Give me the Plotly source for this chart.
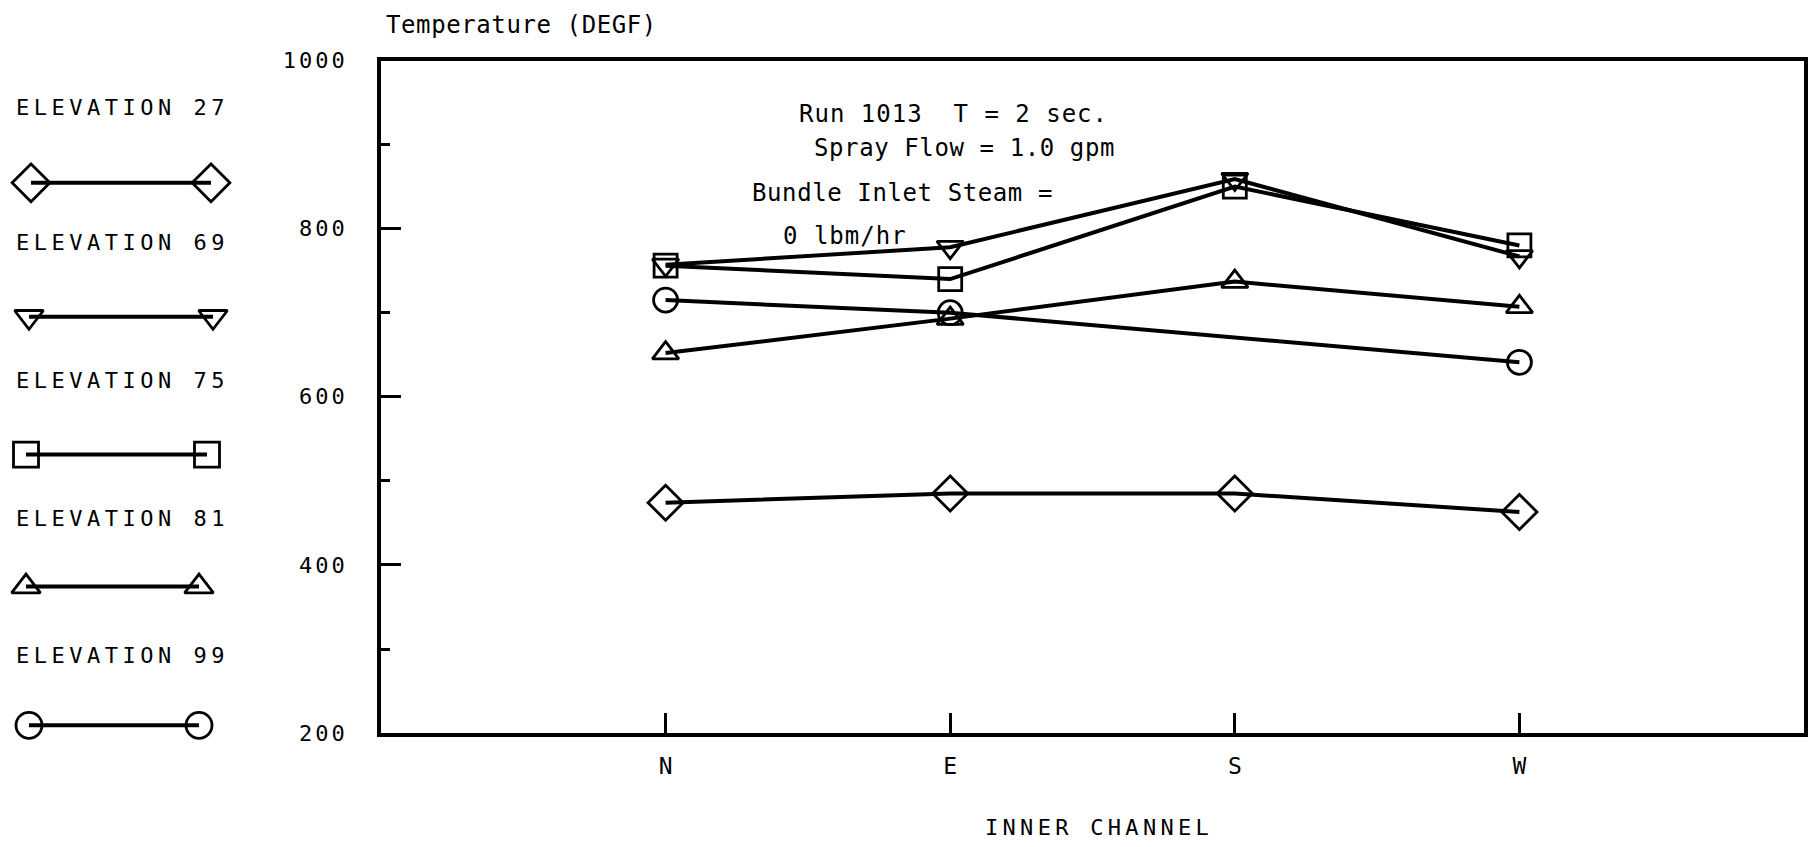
import plotly.graph_objects as go

# ---------------- data ----------------
categories = ["N", "E", "S", "W"]
cat_pos = [1, 2, 3, 4]
elev27 = [474, 485, 485, 463]
elev69 = [757, 778, 859, 767]
elev75 = [756, 740, 850, 780]
elev81 = [652, 693, 737, 707]
elev99 = [715, 700, None, 641]

series_names = ["ELEVATION 27", "ELEVATION 69", "ELEVATION 75", "ELEVATION 81", "ELEVATION 99"]
series_values = [elev27, elev69, elev75, elev81, elev99]
symbols = ["diamond-open", "triangle-down-open", "square-open", "triangle-up-open", "circle-open"]
sizes = [27, 23, 23, 23, 24]

y_ticks = [200, 400, 600, 800, 1000]

W, H = 1811, 847
FONT = "DejaVu Sans Mono"


def spaced(t, px):
    return '<span style="letter-spacing:%.1fpx">%s</span>' % (px, t)


fig = go.Figure()

for name, vals, sym, sz in zip(series_names, series_values, symbols, sizes):
    fig.add_trace(go.Scatter(
        x=cat_pos, y=vals, mode="lines+markers", name=name,
        connectgaps=True,
        line=dict(color="black", width=4),
        marker=dict(symbol=sym, size=sz, color="black", line=dict(width=2.8, color="black")),
        showlegend=False, xaxis="x", yaxis="y",
    ))

# custom legend in a hidden pixel-scaled subplot at left
legend_text_y = [98, 238, 380, 522, 663]
legend_line_y = [176, 314, 456, 592, 735]
legend_x0 = [31, 29, 26, 26, 29]
legend_x1 = [211, 213, 207, 199, 199]
for i, (name, sym, sz) in enumerate(zip(series_names, symbols, sizes)):
    fig.add_trace(go.Scatter(
        x=[legend_x0[i], legend_x1[i]], y=[legend_line_y[i]] * 2,
        mode="lines+markers", showlegend=False,
        line=dict(color="black", width=4),
        marker=dict(symbol=sym, size=sz + 2, color="black", line=dict(width=2.8, color="black")),
        xaxis="x2", yaxis="y2", hoverinfo="skip",
    ))
    fig.add_annotation(x=14, y=legend_text_y[i], xref="x2", yref="y2", text=spaced(name, 4.5),
                       showarrow=False, xanchor="left", yanchor="middle",
                       font=dict(family=FONT, size=22, color="black"))

notes = [
    (1.462, 936, "Run 1013  T = 2 sec.", 1.0),
    (1.514, 896, "Spray Flow = 1.0 gpm", 0.6),
    (1.296, 843, "Bundle Inlet Steam =", 0.6),
    (1.405, 791, "0 lbm/hr", 1.0),
]
for x, y, t, sp in notes:
    fig.add_annotation(x=x, y=y, xref="x", yref="y", text=spaced(t, sp), showarrow=False,
                       xanchor="left", yanchor="middle",
                       font=dict(family=FONT, size=24, color="black"))

fig.add_annotation(x=384 / W, y=1 - 13 / H, xref="paper", yref="paper",
                   text=spaced("Temperature (DEGF)", 0.6), showarrow=False,
                   xanchor="left", yanchor="middle",
                   font=dict(family=FONT, size=24, color="black"))
fig.add_annotation(x=1099 / W, y=1 - 840 / H, xref="paper", yref="paper",
                   text=spaced("INNER CHANNEL", 4.3), showarrow=False,
                   xanchor="center", yanchor="middle",
                   font=dict(family=FONT, size=22, color="black"))

fig.update_layout(
    width=W, height=H,
    margin=dict(l=0, r=0, t=0, b=0),
    paper_bgcolor="white", plot_bgcolor="white",
    font=dict(family=FONT, color="black"),
    xaxis=dict(
        domain=[381 / W, 1804 / W], range=[0, 5],
        tickvals=cat_pos, ticktext=categories,
        ticks="inside", ticklen=20, tickwidth=2.5, tickcolor="black",
        showline=True, linecolor="black", linewidth=3.5, mirror=True,
        showgrid=False, zeroline=False, ticklabelstandoff=10,
        tickfont=dict(family=FONT, size=23, color="black"),
    ),
    yaxis=dict(
        domain=[1 - 743 / H, 1 - 50 / H], range=[200, 1000],
        tickvals=y_ticks, ticktext=[spaced(str(v), 3) for v in y_ticks],
        ticks="inside", ticklen=20, tickwidth=2.5, tickcolor="black",
        minor=dict(dtick=100, ticks="inside", ticklen=9, tickwidth=2.5, tickcolor="black", showgrid=False),
        showline=True, linecolor="black", linewidth=3.5, mirror=True,
        showgrid=False, zeroline=False, ticklabelstandoff=25,
        tickfont=dict(family=FONT, size=22, color="black"),
    ),
    xaxis2=dict(domain=[0, 254 / W], range=[0, 254], visible=False, anchor="y2"),
    yaxis2=dict(domain=[0, 1], range=[H, 0], visible=False, anchor="x2"),
)

fig.write_html(
    "out.html",
    config={"displayModeBar": False},
    post_script="document.body.style.margin='0';document.body.style.overflow='hidden';",
)
